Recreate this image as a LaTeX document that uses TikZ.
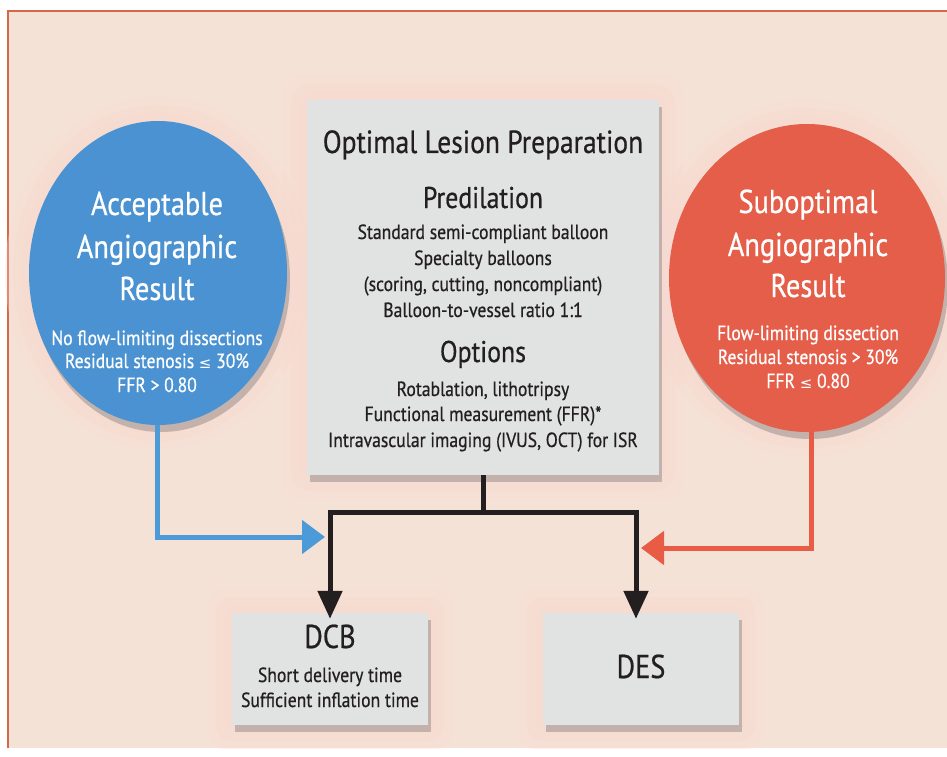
\documentclass[tikz,border=0pt]{standalone}
\usepackage{fontspec}
\setmainfont[FakeStretch=0.86,FakeBold=0.6]{PT Sans}
\usetikzlibrary{arrows.meta,shadows,shapes.geometric}
\definecolor{bgpeach}{HTML}{F5E2D7}
\definecolor{halo}{HTML}{F9D9D0}
\definecolor{framec}{HTML}{D4694A}
\definecolor{boxgray}{HTML}{E1E3E3}
\definecolor{blueE}{HTML}{4A92D1}
\definecolor{redE}{HTML}{E45E49}
\definecolor{blueA}{HTML}{4C9BD8}
\definecolor{redA}{HTML}{E85B45}
\definecolor{ink}{HTML}{231F20}
\newcommand\ttlfont{\fontsize{32}{36}\selectfont}
\newcommand\hdfont{\fontsize{30}{34}\selectfont}
\newcommand\bigfont{\fontsize{33}{38}\selectfont}
\newcommand\bdyfont{\fontsize{20.5}{26}\selectfont}
\newcommand\lesym{{\fontspec{DejaVu Sans}\fontsize{15}{20}\selectfont ≤}}
\begin{document}
\begin{tikzpicture}[x=1pt,y=-1pt,
  shd/.style={drop shadow={shadow xshift=3pt,shadow yshift=-7pt,opacity=0.35,fill=black!60}},
  graybox/.style={rectangle,fill=boxgray,draw=none,inner sep=0pt,shd},
  ell/.style={ellipse,draw=none,inner sep=0pt,shd},
  txt/.style={anchor=base,inner sep=0pt,text=ink},
  wtxt/.style={anchor=base,inner sep=0pt,text=white},
  blk/.style={line width=5pt,draw=ink},
  blkarrow/.style={blk,-{Triangle[width=24pt,length=28pt]}},
  bluearrow/.style={line width=5pt,draw=blueA,-{Triangle[width=33pt,length=23pt]}},
  redarrow/.style={line width=5pt,draw=redA,-{Triangle[width=33pt,length=23pt]}},
  halostyle/.style={fill=halo,opacity=0.3}
]
\useasboundingbox (0,0) rectangle (947,757);
% background and frame
\fill[white] (0,0) rectangle (947,757);
\fill[bgpeach] (8,11) rectangle (947,748);
\draw[framec,line width=2.2pt] (8,748) -- (8,11) -- (947,11);
% halos
\foreach \d in {8,16,24}{
  \fill[halostyle,rounded corners=20pt] (307-\d,100-\d) rectangle (659+\d,475+\d);
  \fill[halostyle,rounded corners=16pt] (232-\d,613-\d) rectangle (428+\d,725+\d);
  \fill[halostyle,rounded corners=16pt] (543-\d,613-\d) rectangle (739+\d,725+\d);
  \fill[halostyle] (158,273) ellipse ({129+\d} and {152+\d});
  \fill[halostyle] (807,278) ellipse ({138+\d} and {154+\d});
}
% main shapes
\node[graybox,minimum width=352pt,minimum height=375pt] (C) at (483,287.5) {};
\node[graybox,minimum width=196pt,minimum height=112pt] (DCB) at (330,669) {};
\node[graybox,minimum width=196pt,minimum height=112pt] (DES) at (641,669) {};
\node[ell,fill=blueE,minimum width=258pt,minimum height=304pt] (L) at (158,273) {};
\node[ell,fill=redE,minimum width=276pt,minimum height=308pt] (R) at (807,278) {};
% central texts
\node[txt] (c1) at (483,153) {\ttlfont Optimal Lesion Preparation};
\node[txt] (c2) at (483,208) {\hdfont Predilation};
\node[txt] (c3) at (483,239) {\bdyfont Standard semi-compliant balloon};
\node[txt] (c4) at (483,265) {\bdyfont Specialty balloons};
\node[txt] (c5) at (483,291) {\bdyfont (scoring, cutting, noncompliant)};
\node[txt] (c6) at (483,317) {\bdyfont Balloon-to-vessel ratio 1:1};
\node[txt] (c7) at (483,362) {\hdfont Options};
\node[txt] (c8) at (483,396) {\bdyfont Rotablation, lithotripsy};
\node[txt] (c9) at (483,421) {\bdyfont Functional measurement (FFR)*};
\node[txt] (c10) at (483,447) {\bdyfont Intravascular imaging (IVUS, OCT) for ISR};
% left ellipse texts
\node[wtxt] (l1) at (157,215) {\bigfont Acceptable};
\node[wtxt] (l2) at (157,258) {\bigfont Angiographic};
\node[wtxt] (l3) at (157,300) {\bigfont Result};
\node[wtxt] (l4) at (157,345) {\bdyfont No flow-limiting dissections};
\node[wtxt] (l5) at (157,368) {\bdyfont Residual stenosis \lesym{} 30\%};
\node[wtxt] (l6) at (157,392) {\bdyfont FFR > 0.80};
% right ellipse texts
\node[wtxt] (r1) at (808,213) {\bigfont Suboptimal};
\node[wtxt] (r2) at (808,256) {\bigfont Angiographic};
\node[wtxt] (r3) at (808,297) {\bigfont Result};
\node[wtxt] (r4) at (808,340) {\bdyfont Flow-limiting dissection};
\node[wtxt] (r5) at (808,364) {\bdyfont Residual stenosis > 30\%};
\node[wtxt] (r6) at (808,388) {\bdyfont FFR \lesym{} 0.80};
% bottom box texts
\node[txt] (d1) at (330,648) {\bigfont DCB};
\node[txt] (d2) at (330,682) {\bdyfont Short delivery time};
\node[txt] (d3) at (330,707) {\bdyfont Sufficient inflation time};
\node[txt] (e1) at (641,678) {\bigfont DES};
% connectors
\coordinate (J) at (483,512);
\coordinate (JL) at (330,512);
\coordinate (JR) at (636,512);
\draw[blk] (C.south) -- (J);
\draw[blk,line cap=rect] (JL) -- (JR);
\draw[blkarrow] (JL) -- ([yshift=-6pt]JL |- DCB.north);
\draw[blkarrow] (JR) -- ([yshift=-6pt]JR |- DES.north);
\coordinate (BL) at (157,537);
\coordinate (BT) at (325,537);
\coordinate (RL) at (811,548);
\coordinate (RT) at (641,548);
\draw[bluearrow] (L.south -| BL) -- (BL) -- (BT);
\draw[redarrow] (R.south -| RL) -- (RL) -- (RT);
\end{tikzpicture}
\end{document}
